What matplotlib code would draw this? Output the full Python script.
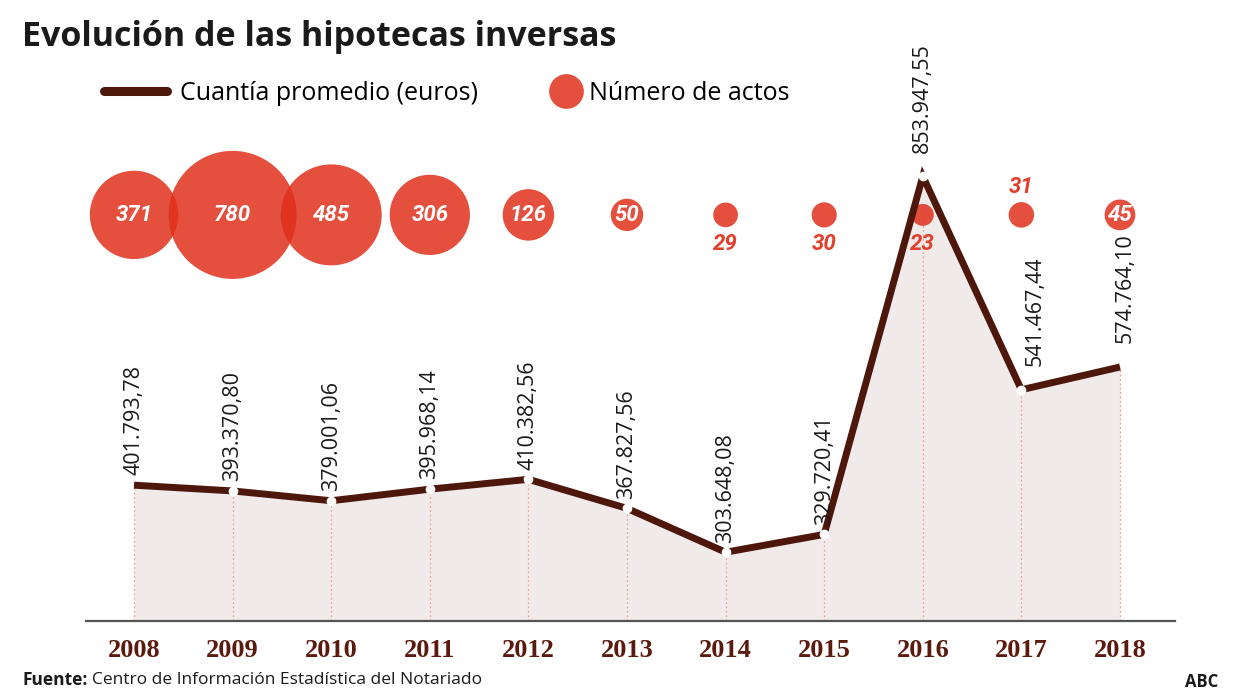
import numpy as np
import matplotlib.pyplot as plt
from matplotlib.lines import Line2D

anios = [2008, 2009, 2010, 2011, 2012, 2013, 2014, 2015, 2016, 2017, 2018]
cuantia = [401793.78, 393370.80, 379001.06, 395968.14, 410382.56, 367827.56,
           303648.08, 329720.41, 853947.55, 541467.44, 574764.10]
etiquetas_cuantia = ['401.793,78', '393.370,80', '379.001,06', '395.968,14', '410.382,56',
                     '367.827,56', '303.648,08', '329.720,41', '853.947,55', '541.467,44',
                     '574.764,10']
actos = [371, 780, 485, 306, 126, 50, 29, 30, 23, 31, 45]

# where the count label goes for each bubble
pos_actos = ['in', 'in', 'in', 'in', 'in', 'in', 'below', 'below', 'below', 'above', 'in']
# extra offset (points) for the rotated value labels
off_cuantia = [7, 7, 7, 7, 7, 7, 7, 7, 17, 17, 17]
dx_cuantia = [0, 0, 0, 0, 0, 0, 0, 0, 0, 10, 4]

MARRON = '#4d170c'
ROJO = '#e0301c'
SANS = ['Open Sans', 'DejaVu Sans']
ITAL = ['Roboto', 'DejaVu Sans']

fig = plt.figure(figsize=(12.4, 6.98), dpi=100)
ax = fig.add_axes([86/1240, 1 - 621/698, (1175 - 86)/1240, (621 - 140)/698])

ybot, ytop = 203000, 907000
fila_burbujas = 797400

ax.set_xlim(2007.513, 2018.558)
ax.set_ylim(ybot, ytop)

ax.fill_between(anios, cuantia, ybot, color='#f0ebea', zorder=1, lw=0)
for a, v in zip(anios, cuantia):
    top = fila_burbujas if a == 2016 else v
    ax.plot([a, a], [ybot, top], color='#f4a093', lw=0.9, ls=(0, (1.5, 2)), zorder=2)

ax.scatter(anios, [fila_burbujas]*len(anios), s=[10.9*n for n in actos],
           color=ROJO, alpha=0.85, lw=0, zorder=3)

ax.plot(anios, cuantia, color=MARRON, lw=5, solid_capstyle='butt',
        solid_joinstyle='miter', zorder=4)
ax.plot(anios[1:-1], cuantia[1:-1], 'o', color='white', ms=7, mew=0, zorder=5)

for a, v, t, o, d in zip(anios, cuantia, etiquetas_cuantia, off_cuantia, dx_cuantia):
    ax.annotate(t, (a, v), xytext=(d, o), textcoords='offset points', rotation=90,
                ha='center', va='bottom', fontsize=15.5, family=SANS, color='#1a1a1a',
                zorder=6)

for a, n, p in zip(anios, actos, pos_actos):
    if p == 'in':
        ax.annotate(str(n), (a, fila_burbujas), ha='center', va='center', color='white',
                    fontsize=16, style='italic', weight='bold', family=ITAL, zorder=6)
    else:
        dy = -21 if p == 'below' else 20
        ax.annotate(str(n), (a, fila_burbujas), xytext=(0, dy), textcoords='offset points',
                    ha='center', va='center', color='#e2402c', fontsize=16,
                    style='italic', weight='bold', family=ITAL, zorder=6)

for s in ['top', 'right', 'left']:
    ax.spines[s].set_visible(False)
ax.spines['bottom'].set_color('#555555')
ax.spines['bottom'].set_linewidth(1.6)
ax.spines['bottom'].set_zorder(7)
ax.set_yticks([])
ax.set_xticks(anios)
ax.set_xticklabels([str(a) for a in anios], fontsize=19, weight='bold',
                   family='Liberation Serif', color='#5c1a0f')
ax.tick_params(axis='x', length=0, pad=13)
ax.patch.set_alpha(0)

fig.text(22/1240, 1 - 37/698, 'Evolución de las hipotecas inversas', fontsize=24.5,
         weight='bold', family=SANS, color='#1a1a1a', va='center')

fig.legend([Line2D([], [], color=MARRON, lw=6.5, solid_capstyle='round')],
           ['Cuantía promedio (euros)'],
           loc='center left', bbox_to_anchor=(104/1240, 1 - 93/698),
           frameon=False, handlelength=2.5, handletextpad=0.55,
           prop={'family': SANS, 'size': 18}, borderpad=0, borderaxespad=0)
fig.legend([Line2D([], [], marker='o', ls='', color='#e44f3e', ms=25, mew=0)],
           ['Número de actos'],
           loc='center left', bbox_to_anchor=(553/1240, 1 - 93/698),
           frameon=False, handlelength=1.0, handletextpad=0.45,
           prop={'family': SANS, 'size': 18}, borderpad=0, borderaxespad=0)

t1 = fig.text(22/1240, 1 - 680/698, 'Fuente:', fontsize=12.5, weight='bold', family=SANS,
              va='center', color='#1a1a1a')
ax.annotate('Centro de Información Estadística del Notariado', xy=(1, 0.5), xycoords=t1,
            xytext=(3, 0), textcoords='offset points', fontsize=12.5, family=SANS,
            va='center', color='#1a1a1a', annotation_clip=False)
fig.text(1218/1240, 1 - 682/698, 'ABC', fontsize=12, weight='bold', family=SANS,
         va='center', ha='right', color='#1a1a1a')

fig.savefig('out.png', dpi=100)
